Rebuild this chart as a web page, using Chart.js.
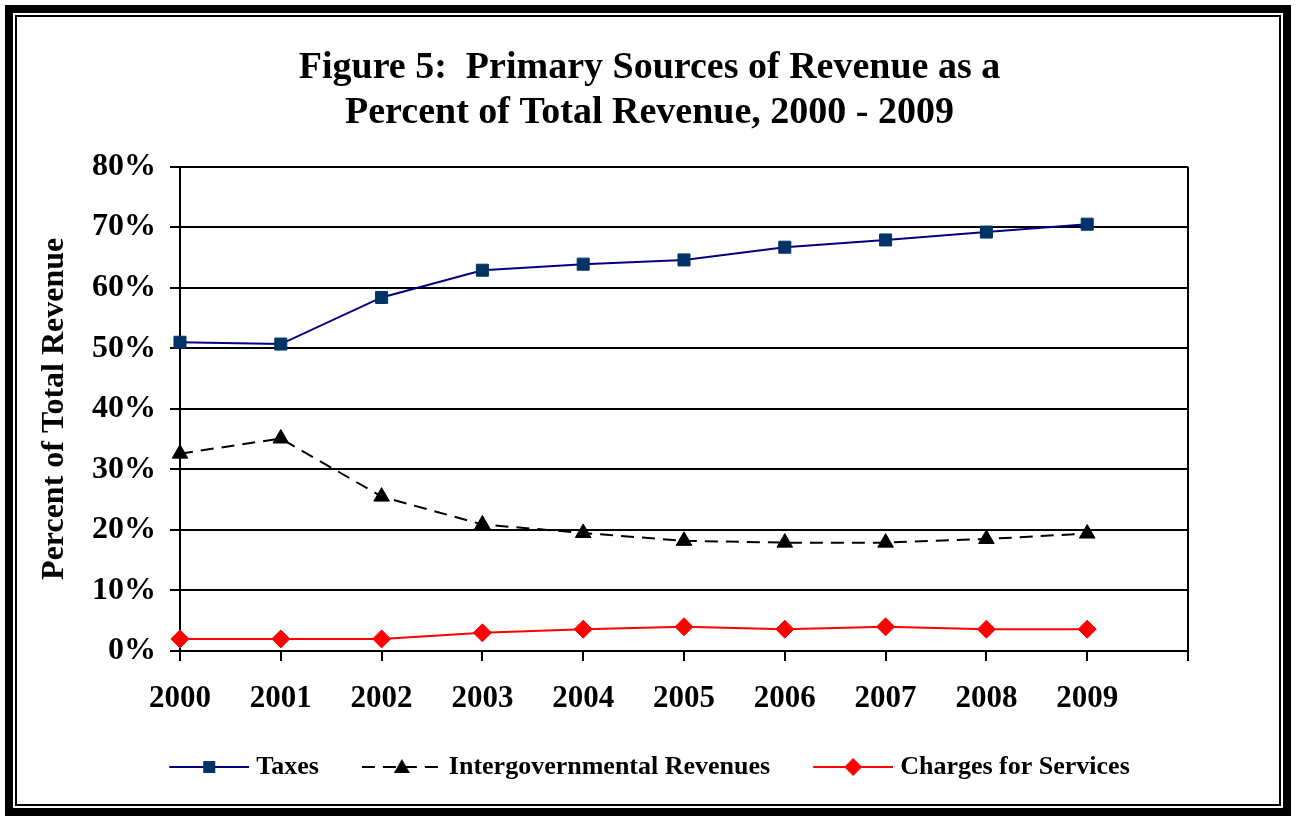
<!DOCTYPE html>
<html>
<head>
<meta charset="utf-8">
<script src="https://cdn.jsdelivr.net/npm/chart.js@4"></script>
<style>
  html, body { margin: 0; padding: 0; background: #fff; }
  #wrap { position: absolute; left: 0; top: 0; width: 1296px; height: 821px; }
</style>
</head>
<body>
<div id="wrap"><canvas id="myChart" width="1296" height="821"></canvas></div>
<script>
const years = ["2000", "2001", "2002", "2003", "2004", "2005", "2006", "2007", "2008", "2009", ""];
const taxes = [51.0, 50.7, 58.4, 62.9, 63.9, 64.6, 66.7, 67.9, 69.2, 70.5];
const intergov = [32.6, 35.1, 25.5, 20.9, 19.5, 18.2, 17.9, 17.9, 18.5, 19.4];
const charges = [2.0, 2.0, 2.0, 3.0, 3.6, 4.0, 3.6, 4.0, 3.6, 3.6];

const serif = "'Liberation Serif', 'Times New Roman', serif";

// legend sample: line with the marker in the middle
function legendIcon(color, fill, dash, shape) {
  const m = 6;
  const c = document.createElement("canvas");
  c.width = 80 + m;
  c.height = 20;
  const g = c.getContext("2d");
  g.strokeStyle = color;
  g.lineWidth = 2;
  g.setLineDash(dash);
  g.beginPath();
  g.moveTo(m, 10);
  g.lineTo(m + 80, 10);
  g.stroke();
  g.setLineDash([]);
  g.fillStyle = fill;
  g.beginPath();
  const cx = m + 40;
  if (shape === "rect") {
    g.rect(cx - 6, 4, 12, 12);
  } else if (shape === "triangle") {
    g.moveTo(cx, 2);
    g.lineTo(cx + 8, 16);
    g.lineTo(cx - 8, 16);
  } else {
    g.moveTo(cx, 1);
    g.lineTo(cx + 9, 10);
    g.lineTo(cx, 19);
    g.lineTo(cx - 9, 10);
  }
  g.closePath();
  g.fill();
  return c;
}

const icons = [
  legendIcon("#000080", "#003366", [], "rect"),
  legendIcon("#000000", "#000000", [13, 8], "triangle"),
  legendIcon("#ff0000", "#ff0000", [], "diamond"),
];

// double frame round the whole picture
const framePlugin = {
  id: "frame",
  beforeDraw(chart) {
    const ctx = chart.ctx;
    ctx.save();
    ctx.fillStyle = "#fff";
    ctx.fillRect(0, 0, chart.width, chart.height);
    ctx.strokeStyle = "#000";
    ctx.lineWidth = 8;
    ctx.strokeRect(9, 9, 1278, 803);
    ctx.lineWidth = 2;
    ctx.strokeRect(16, 16, 1264, 789);
    ctx.restore();
  },
};

const data = {
  labels: years,
  datasets: [
    {
      label: "Taxes",
      data: taxes,
      borderColor: "#000080",
      backgroundColor: "#003366",
      borderWidth: 2,
      pointStyle: "rect",
      pointRadius: 8.5,
      pointBorderWidth: 1,
      pointBorderColor: "#003366",
      tension: 0,
    },
    {
      label: "Intergovernmental Revenues",
      data: intergov,
      borderColor: "#000000",
      backgroundColor: "#000000",
      borderWidth: 2,
      borderDash: [13, 8],
      pointStyle: "triangle",
      pointRadius: 9,
      pointBorderWidth: 1,
      tension: 0,
    },
    {
      label: "Charges for Services",
      data: charges,
      borderColor: "#ff0000",
      backgroundColor: "#ff0000",
      borderWidth: 2,
      pointStyle: "rectRot",
      pointRadius: 9,
      pointBorderWidth: 1,
      pointBorderColor: "#ff0000",
      tension: 0,
    },
  ],
};

const config = {
  type: "line",
  data,
  plugins: [framePlugin],
  options: {
    responsive: false,
    animation: false,
    layout: { padding: { left: 36, right: 33, top: 46, bottom: 31 } },
    plugins: {
      title: {
        display: true,
        text: ["Figure 5:  Primary Sources of Revenue as a", "Percent of Total Revenue, 2000 - 2009"],
        color: "#000",
        font: { family: serif, size: 38, weight: "bold", lineHeight: 1.18 },
        padding: { top: 0, bottom: 31 },
      },
      legend: {
        position: "bottom",
        labels: {
          color: "#000",
          font: { family: serif, size: 26, weight: "bold" },
          usePointStyle: true,
          pointStyleWidth: 74,
          padding: 43,
          generateLabels(chart) {
            return chart.data.datasets.map((ds, i) => ({
              text: ds.label,
              pointStyle: icons[i],
              datasetIndex: i,
              fontColor: "#000",
              lineWidth: 0,
              strokeStyle: "transparent",
              fillStyle: "transparent",
            }));
          },
        },
      },
      tooltip: { enabled: false },
    },
    scales: {
      x: {
        type: "category",
        offset: false,
        afterFit: (s) => { s.height = 60; },
        grid: {
          color: (c) => (c.index === 10 ? "#000" : "transparent"),
          tickColor: "#000",
          lineWidth: 2,
          tickLength: 10,
        },
        border: { color: "#000", width: 2 },
        ticks: {
          color: "#000",
          font: { family: serif, size: 31, weight: "bold" },
          padding: 19,
          maxRotation: 0,
          autoSkip: false,
        },
      },
      y: {
        min: 0,
        max: 80,
        afterFit: (s) => { s.width = 144; },
        grid: { color: "#000", lineWidth: 2, tickLength: 10, tickColor: "#000" },
        border: { color: "#000", width: 2 },
        ticks: {
          stepSize: 10,
          color: "#000",
          font: { family: serif, size: 32, weight: "bold" },
          padding: 14,
          callback: (v) => v + "%",
        },
        title: {
          display: true,
          text: "Percent of Total Revenue",
          color: "#000",
          font: { family: serif, size: 32, weight: "bold" },
          padding: { top: 0, bottom: 0 },
        },
      },
      // empty right-hand axis, only keeps space right of the plot
      y2: {
        position: "right",
        min: 0,
        max: 80,
        afterFit: (s) => { s.width = 75; },
        grid: { display: false },
        border: { display: false },
        ticks: { display: false },
      },
    },
  },
};

const myChart = new Chart(document.getElementById("myChart"), config);
</script>
</body>
</html>
